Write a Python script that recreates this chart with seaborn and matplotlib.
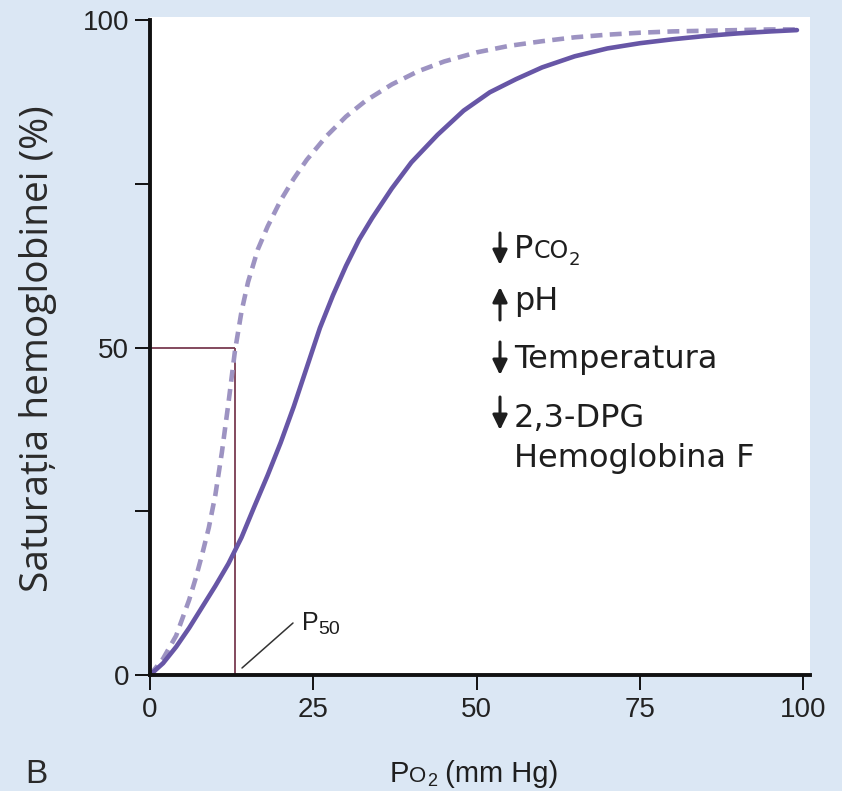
import matplotlib
matplotlib.use("Agg")
import matplotlib.pyplot as plt
import numpy as np
import pandas as pd
import seaborn as sns
from matplotlib.transforms import IdentityTransform
from matplotlib import font_manager

# ---------------- data ----------------
po2_normal = [0, 2, 4, 6, 8, 10, 12, 14, 16, 18, 20, 22, 24, 26, 28, 30, 32, 34, 37, 40, 44, 48,
              52, 56, 60, 65, 70, 75, 80, 85, 90, 95, 99]
sat_normal = [0, 1.8, 4.3, 7.2, 10.4, 13.6, 17, 21, 25.8, 30.5, 35.5, 41, 47, 53, 58, 62.5, 66.5,
              69.8, 74.3, 78.3, 82.5, 86.2, 89, 91, 92.8, 94.5, 95.7, 96.5, 97.1, 97.6, 98, 98.3, 98.5]

po2_left = [0, 2, 4, 6, 7, 8, 9, 10, 11, 12, 13, 14, 15, 16.5, 18, 20, 22, 24, 27, 30, 33, 37, 41,
            45, 50, 55, 60, 65, 70, 75, 80, 85, 90, 95, 99]
sat_left = [0, 2.5, 6, 11.5, 14.8, 18.5, 22.5, 27.5, 34, 41.5, 49.5, 55.5, 60, 65, 68.5, 72.5, 75.8,
            78.7, 82.3, 85.3, 87.7, 90.2, 92.2, 93.7, 95.1, 96.1, 96.8, 97.4, 97.8, 98.1, 98.3,
            98.4, 98.5, 98.6, 98.6]

p50_left = 13
sat_half = 50

x_ticks = [0, 25, 50, 75, 100]
x_tick_labels = ["0", "25", "50", "75", "100"]
y_ticks = [0, 25, 50, 75, 100]
y_tick_labels = ["0", "", "50", "", "100"]

factor_arrows = ["down", "up", "down", "down"]
extra_text = "Hemoglobina F"

# ---------------- style ----------------
BG = "#dbe7f4"
SOLID = "#6756a6"
DASHED = "#9d93c2"
P50C = "#7a3b50"
TXT = "#1e1e1e"

sns.set_theme(style="ticks")
plt.rcParams["font.family"] = ["Liberation Sans", "DejaVu Sans"]
names = {f.name for f in font_manager.fontManager.ttflist}
NARROW = "Liberation Sans Narrow" if "Liberation Sans Narrow" in names else "Liberation Sans"
YLAB = "Open Sans" if "Open Sans" in names else "DejaVu Sans"

W, H = 842, 791
fig = plt.figure(figsize=(W / 100, H / 100), dpi=100, facecolor=BG)
ax = fig.add_axes([150 / W, 1 - 675 / H, 660 / W, 658 / H])
ax.set_facecolor("white")

df_left = pd.DataFrame({"PO2": po2_left, "Sat": sat_left})
df_norm = pd.DataFrame({"PO2": po2_normal, "Sat": sat_normal})

sns.lineplot(data=df_left, x="PO2", y="Sat", ax=ax, color=DASHED, lw=3.3,
             estimator=None, sort=False)
ax.lines[-1].set_linestyle((0, (2.6, 1.6)))
sns.lineplot(data=df_norm, x="PO2", y="Sat", ax=ax, color=SOLID, lw=3.3,
             estimator=None, sort=False, solid_capstyle="round", solid_joinstyle="round")

# P50 guide lines
ax.hlines(sat_half, 0, p50_left, color=P50C, lw=1.3, zorder=1)
ax.vlines(p50_left, 0, sat_half, color=P50C, lw=1.3, zorder=1)

ax.set_xlim(0, 101)
ax.set_ylim(0, 100.5)
ax.set_xticks(x_ticks)
ax.set_xticklabels(x_tick_labels)
ax.set_yticks(y_ticks)
ax.set_yticklabels(y_tick_labels)
ax.set_xlabel("")
ax.set_ylabel("")

for s in ["top", "right"]:
    ax.spines[s].set_visible(False)
for s in ["left", "bottom"]:
    ax.spines[s].set_linewidth(2.8)
    ax.spines[s].set_color("#111111")
ax.spines["left"].set_bounds(0, 100)
ax.tick_params(axis="both", direction="out", length=11, width=1.4, color="#111111",
               labelsize=20, labelcolor="#222222")
ax.tick_params(axis="x", pad=5)
ax.tick_params(axis="y", pad=4)
for lab in ax.get_xticklabels() + ax.get_yticklabels():
    lab.set_family(NARROW)

fig.canvas.draw()
renderer = fig.canvas.get_renderer()


def rich(xpix, ybase_pix, parts):
    """parts: list of (text, size, shift_down_pix, family). Image pixels, top-left origin."""
    X = xpix
    Y = H - ybase_pix
    for txt, size, down, fam in parts:
        t = fig.text(X, Y - down, txt, fontsize=size, family=fam, color=TXT,
                     va="baseline", ha="left", transform=IdentityTransform())
        bb = t.get_window_extent(renderer)
        X = bb.x1


# factor annotation block
DJ = "DejaVu Sans"
tx = 514
rich(tx, 258, [("P", 23, 0, DJ), ("CO", 17, 0, DJ), ("2", 13, 7, DJ)])
rich(tx, 310, [("pH", 23, 0, DJ)])
rich(tx, 368, [("Temperatura", 23, 0, DJ)])
rich(tx, 427, [("2,3-DPG", 23, 0, DJ)])
rich(tx, 467, [(extra_text, 23, 0, DJ)])

arrow_rows = [(233, 265), (287, 320), (342, 375), (397, 430)]
for direction, (ytop, ybot) in zip(factor_arrows, arrow_rows):
    if direction == "down":
        start, end = (500, H - ytop), (500, H - ybot)
    else:
        start, end = (500, H - ybot), (500, H - ytop)
    fig.add_artist(matplotlib.patches.FancyArrowPatch(
        start, end, transform=IdentityTransform(),
        arrowstyle="-|>,head_length=0.45,head_width=0.22",
        mutation_scale=20, lw=2.2, color=TXT, shrinkA=0, shrinkB=0))

# P50 label with leader line
fig.add_artist(matplotlib.lines.Line2D([242, 293], [H - 668, H - 623],
                                       transform=IdentityTransform(), color="#333333", lw=1.1))
rich(302, 630, [("P", 18, 0, "Liberation Sans"), ("50", 14, 4, "Liberation Sans")])

# axis labels
fig.text(38 / W, 1 - 349 / H, "Saturația hemoglobinei (%)", rotation=90, ha="center",
         va="center", fontsize=28, family=YLAB, color="#2a2a2a")
rich(390, 782, [("P", 21, 0, NARROW), ("O", 16, 0, NARROW), ("2", 13, 4, NARROW),
                (" (mm Hg)", 21, 0, NARROW)])
fig.text(25 / W, 1 - 783 / H, "B", fontsize=24, family="Liberation Sans", color="#2a2a2a",
         va="baseline", ha="left")

fig.savefig("out.png", dpi=100, facecolor=BG)
